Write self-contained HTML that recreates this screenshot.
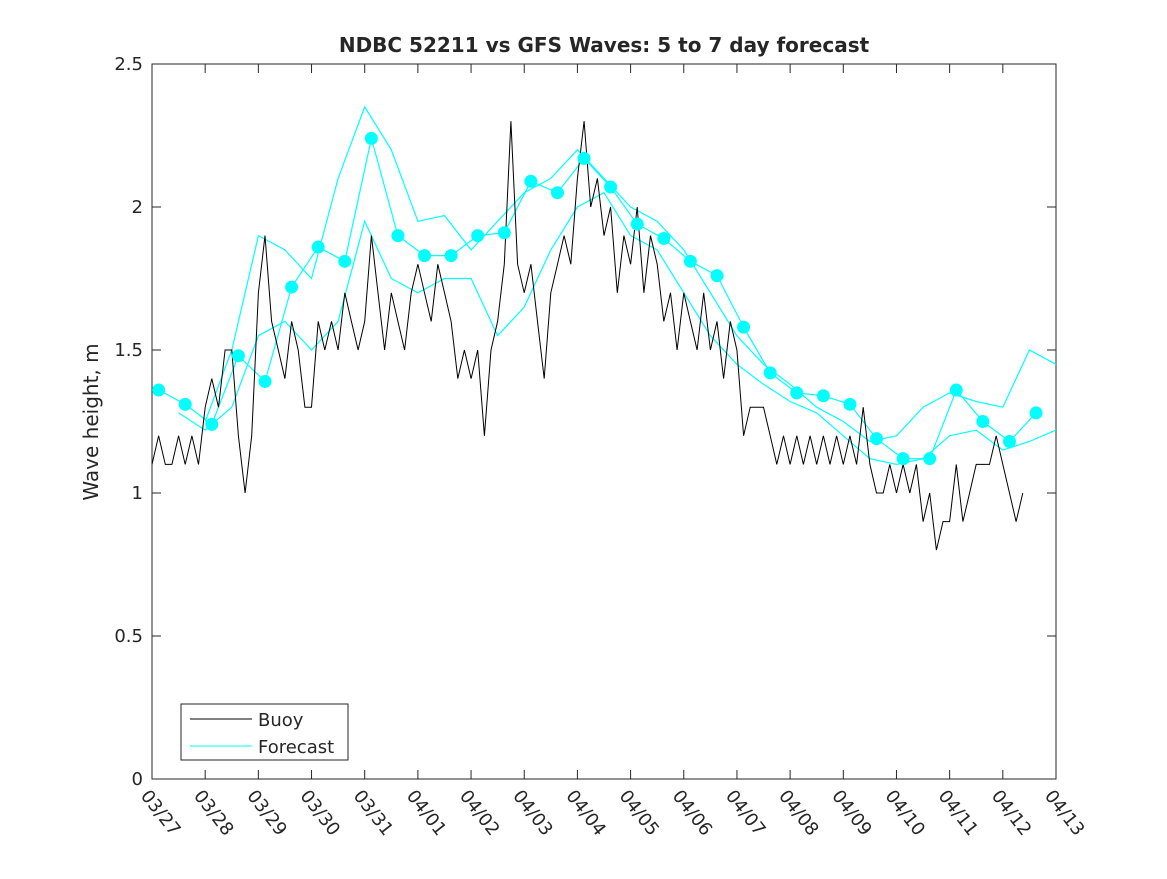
<!DOCTYPE html>
<html><head><meta charset="utf-8"><style>
body{margin:0;background:#fff;font-family:"DejaVu Sans","Liberation Sans",sans-serif}
svg text{font-family:"DejaVu Sans","Liberation Sans",sans-serif;fill:#262626}
</style></head><body>
<svg id="c" width="1167" height="875">
<rect width="1167" height="875" fill="#fff"/>
<text x="604" y="52" text-anchor="middle" font-size="20" font-weight="bold" fill="#000">NDBC 52211 vs GFS Waves: 5 to 7 day forecast</text>
<text transform="translate(98,422) rotate(-90)" text-anchor="middle" font-size="20">Wave height, m</text>
<g id="plot"></g>
</svg>
<script>
const yTicks=[0,0.5,1,1.5,2,2.5];
const xLabels=["03/27","03/28","03/29","03/30","03/31","04/01","04/02","04/03","04/04","04/05","04/06","04/07","04/08","04/09","04/10","04/11","04/12","04/13"];
const markerStart=0.125, markerStep=0.5;
const markerVals=[1.36,1.31,1.24,1.48,1.39,1.72,1.86,1.81,2.24,1.90,1.83,1.83,1.90,1.91,2.09,2.05,2.17,2.07,1.94,1.89,1.81,1.76,1.58,1.42,1.35,1.34,1.31,1.19,1.12,1.12,1.36,1.25,1.18,1.28];
const upperStart=1.0, upperStep=0.5;
const upperVals=[1.25,1.5,1.9,1.85,1.75,2.1,2.35,2.2,1.95,1.97,1.85,1.95,2.05,2.1,2.2,2.1,2.0,1.95,1.85,1.7,1.55,1.45,1.38,1.3,1.25,1.18,1.2,1.3,1.35,1.32,1.3,1.5,1.45];
const lowerStart=0.5, lowerStep=0.5;
const lowerVals=[1.28,1.22,1.3,1.55,1.6,1.5,1.6,1.95,1.75,1.7,1.75,1.75,1.55,1.65,1.85,2.0,2.05,1.9,1.85,1.7,1.55,1.45,1.38,1.32,1.28,1.2,1.12,1.1,1.12,1.2,1.22,1.15,1.18,1.22];
const buoyStart=0, buoyStep=0.125;
const buoyVals=[
1.1,1.2,1.1,1.1,1.2,1.1,1.2,1.1,
1.3,1.4,1.3,1.5,1.5,1.2,1.0,1.2,
1.7,1.9,1.6,1.5,1.4,1.6,1.5,1.3,
1.3,1.6,1.5,1.6,1.5,1.7,1.6,1.5,
1.6,1.9,1.7,1.5,1.7,1.6,1.5,1.7,
1.8,1.7,1.6,1.8,1.7,1.6,1.4,1.5,
1.4,1.5,1.2,1.5,1.6,1.8,2.3,1.8,
1.7,1.8,1.6,1.4,1.7,1.8,1.9,1.8,
2.1,2.3,2.0,2.1,1.9,2.0,1.7,1.9,
1.8,2.0,1.7,1.9,1.8,1.6,1.7,1.5,
1.7,1.6,1.5,1.7,1.5,1.6,1.4,1.6,
1.5,1.2,1.3,1.3,1.3,1.2,1.1,1.2,
1.1,1.2,1.1,1.2,1.1,1.2,1.1,1.2,
1.1,1.2,1.1,1.3,1.1,1.0,1.0,1.1,
1.0,1.1,1.0,1.1,0.9,1.0,0.8,0.9,
0.9,1.1,0.9,1.0,1.1,1.1,1.1,1.2,
1.1,1.0,0.9,1.0];

const L=152,R=1056,T=64,B=779,NS="http://www.w3.org/2000/svg";
const xs=d=>L+(R-L)*d/17, ys=v=>B-(B-T)*v/2.5;
const g=document.getElementById('plot');
function el(t,a){const e=document.createElementNS(NS,t);for(const k in a)e.setAttribute(k,a[k]);g.appendChild(e);return e;}
const frame=el('rect',{x:L,y:T,width:R-L,height:B-T,fill:'none',stroke:'#262626','stroke-width':1});


yTicks.forEach(v=>{
  el('line',{x1:L,x2:L+9,y1:ys(v),y2:ys(v),stroke:'#262626'});
  el('line',{x1:R,x2:R-9,y1:ys(v),y2:ys(v),stroke:'#262626'});
  const t=el('text',{x:L-9,y:ys(v)+6,'text-anchor':'end','font-size':18});t.textContent=v;
  
  
});
xLabels.forEach((s,i)=>{
  const x=xs(i);
  el('line',{x1:x,x2:x,y1:B,y2:B-9,stroke:'#262626'});
  el('line',{x1:x,x2:x,y1:T,y2:T+9,stroke:'#262626'});
  const t=el('text',{transform:`translate(${x-12},${B+17}) rotate(52)`,'font-size':18});t.textContent=s;
  
  
});
function line(start,step,vals,col,w,name){
  const p=vals.map((v,i)=>xs(start+i*step).toFixed(1)+','+ys(v).toFixed(1)).join(' ');
  const e=el('polyline',{points:p,fill:'none',stroke:col,'stroke-width':w});
  
  
}
line(upperStart,upperStep,upperVals,'#00ffff',1.2,'forecast-line-upper');
line(lowerStart,lowerStep,lowerVals,'#00ffff',1.2,'forecast-line-lower');
line(markerStart,markerStep,markerVals,'#00ffff',1.2,'forecast-line-main');
line(buoyStart,buoyStep,buoyVals,'#000',1,'buoy-line');
markerVals.forEach((v,i)=>{
  const c=el('circle',{cx:xs(markerStart+i*markerStep),cy:ys(v),r:6.5,fill:'#00ffff'});
  
  
});
const lg=el('rect',{x:181,y:704,width:167,height:56,fill:'#fff',stroke:'#262626'});


el('line',{x1:190,x2:252,y1:719,y2:719,stroke:'#000'});
el('line',{x1:190,x2:252,y1:746,y2:746,stroke:'#00ffff'});
const t1=el('text',{x:258,y:726,'font-size':18,fill:'#000'});t1.textContent='Buoy';


const t2=el('text',{x:258,y:753,'font-size':18,fill:'#000'});t2.textContent='Forecast';


</script>
</body></html>
